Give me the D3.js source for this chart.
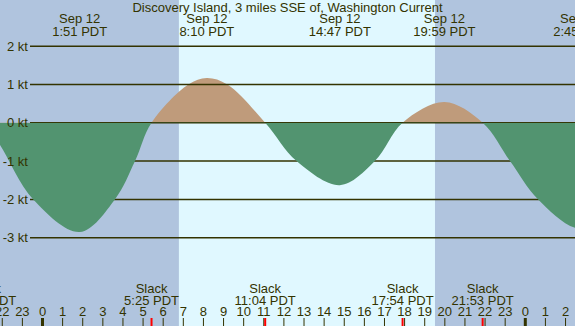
<!DOCTYPE html>
<html>
<head>
<meta charset="utf-8">
<script src="https://cdn.jsdelivr.net/npm/d3@7"></script>
<style>
  html, body { margin: 0; padding: 0; background: #b0c4de; }
  svg { display: block; font-family: "Liberation Sans", Arial, sans-serif; }
</style>
</head>
<body>
<svg width="575" height="326"></svg>
<script>
/* global d3 */

// Chart constants
const width = 575;
const height = 326;
const svg = d3.select('svg');
const title = 'Discovery Island, 3 miles SSE of, Washington Current';
const ink = '#333300';

// Current readings (hours from Sep 12 00:00 PDT, knots)
const hours = [-2.85, -2.11, -0.46, 1.85, 3.6, 4.6, 5.42, 7.25, 8.17, 9.19, 11.07,
  12.63, 14.78, 16.52, 17.9, 19.98, 21.88, 23.24, 24.64, 26.75, 28.9];
const knots = [0, -0.58, -2, -2.85, -2, -1, 0, 1, 1.17, 1, 0,
  -1, -1.63, -1, 0, 0.54, 0, -1, -2, -2.76, -2];

// Max current events (top labels)
const maxHours = [1.85, 8.17, 14.78, 19.98, 26.75];
const maxDates = ['Sep 12', 'Sep 12', 'Sep 12', 'Sep 12', 'Sep 13'];
const maxLabels = ['1:51 PDT', '8:10 PDT', '14:47 PDT', '19:59 PDT', '2:45 PDT'];

// Slack events (bottom labels)
const slackHours = [-2.85, 5.42, 11.07, 17.9, 21.88];
const slackLabels = ['21:09 PDT', '5:25 PDT', '11:04 PDT', '17:54 PDT', '21:53 PDT'];

// Daylight and y levels
const sunrise = 6.78;
const sunset = 19.51;
const levels = [2, 1, 0, -1, -2, -3];

// Scales
const xScale = d3.scaleLinear().domain([0, 24]).range([42.5, 525.3]);
const yScale = d3.scaleLinear().domain([-3, 2]).range([237.7, 46.2]);
const tStart = xScale.invert(0);
const tEnd = xScale.invert(width);

// Night / day background
svg.append('rect')
  .attr('width', width).attr('height', height)
  .attr('fill', '#b0c4de');
svg.append('rect')
  .attr('x', xScale(sunrise))
  .attr('width', xScale(sunset) - xScale(sunrise))
  .attr('height', height)
  .attr('fill', '#e0f8ff');

const data = hours.map((h, i) => ({ h, v: knots[i] }));

const area = d3.area()
  .curve(d3.curveCatmullRom.alpha(0.5))
  .x((d) => xScale(d.h))
  .y0(yScale(0))
  .y1((d) => yScale(d.v));

// clip paths for flood (above 0) and ebb (below 0)
const defs = svg.append('defs');
defs.append('clipPath').attr('id', 'above')
  .append('rect').attr('x', 0).attr('y', 0)
  .attr('width', width).attr('height', yScale(0));
defs.append('clipPath').attr('id', 'below')
  .append('rect').attr('x', 0).attr('y', yScale(0))
  .attr('width', width).attr('height', height - yScale(0));

svg.append('path')
  .datum(data)
  .attr('clip-path', 'url(#above)')
  .attr('fill', '#bf9b7b')
  .attr('d', area);

// Horizontal level lines
svg.selectAll('.level')
  .data(levels)
  .enter()
  .append('line')
  .attr('class', 'level')
  .attr('x1', 30).attr('x2', width)
  .attr('y1', (d) => yScale(d)).attr('y2', (d) => yScale(d))
  .attr('stroke', ink)
  .attr('stroke-width', 1.5);

svg.append('path')
  .datum(data)
  .attr('clip-path', 'url(#below)')
  .attr('fill', '#529470')
  .attr('d', area);

// Level labels
svg.selectAll('.level-label')
  .data(levels)
  .enter()
  .append('text')
  .attr('x', 28)
  .attr('y', (d) => yScale(d) + 4.5)
  .attr('text-anchor', 'end')
  .attr('font-size', 13)
  .attr('fill', ink)
  .text((d) => `${d} kt`);

// Title
svg.append('text')
  .attr('x', width / 2).attr('y', 12)
  .attr('text-anchor', 'middle')
  .attr('font-size', 13)
  .attr('fill', ink)
  .text(title);

// Max current labels
maxHours.forEach((h, i) => {
  const g = svg.append('g').attr('fill', ink).attr('font-size', 13)
    .attr('text-anchor', 'middle');
  g.append('text').attr('x', xScale(h)).attr('y', 23).text(maxDates[i]);
  g.append('text').attr('x', xScale(h)).attr('y', 36).text(maxLabels[i]);
});

// Slack labels
slackHours.forEach((h, i) => {
  const g = svg.append('g').attr('fill', ink).attr('font-size', 13)
    .attr('text-anchor', 'middle');
  g.append('text').attr('x', xScale(h)).attr('y', 292.5).text('Slack');
  g.append('text').attr('x', xScale(h)).attr('y', 305).text(slackLabels[i]);
});

// Hour ticks along the bottom
const tickHours = d3.range(Math.ceil(tStart), Math.floor(tEnd) + 1);
svg.selectAll('.hour-label')
  .data(tickHours)
  .enter()
  .append('text')
  .attr('x', (d) => xScale(d))
  .attr('y', 316)
  .attr('text-anchor', 'middle')
  .attr('font-size', 13)
  .attr('fill', ink)
  .text((d) => ((d % 24) + 24) % 24);

svg.selectAll('.hour-tick')
  .data(tickHours)
  .enter()
  .append('line')
  .attr('x1', (d) => xScale(d)).attr('x2', (d) => xScale(d))
  .attr('y1', 318).attr('y2', height)
  .attr('stroke', ink)
  .attr('stroke-width', (d) => (d % 24 === 0 ? 3 : 1));

svg.selectAll('.slack-tick')
  .data(slackHours)
  .enter()
  .append('line')
  .attr('x1', (d) => xScale(d)).attr('x2', (d) => xScale(d))
  .attr('y1', 318).attr('y2', height)
  .attr('stroke', '#ff0000')
  .attr('stroke-width', 2);
</script>
</body>
</html>
